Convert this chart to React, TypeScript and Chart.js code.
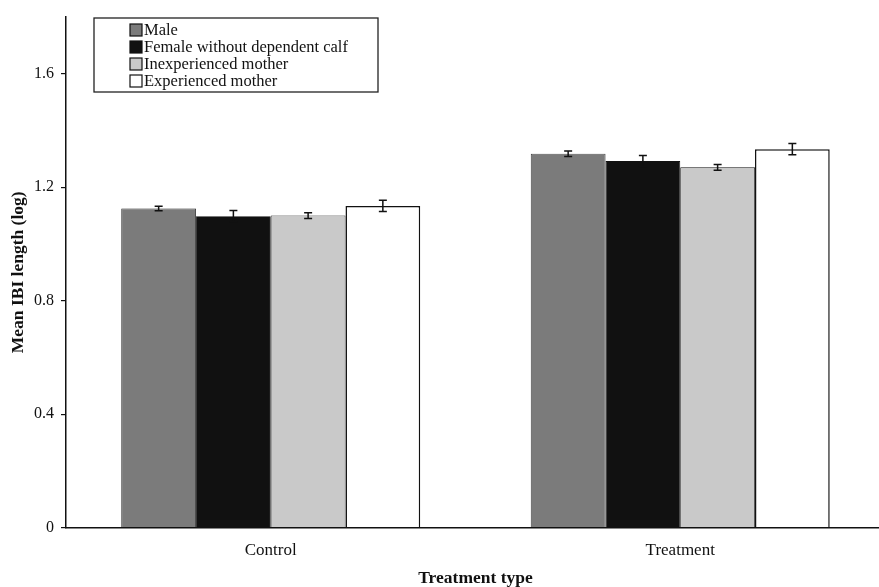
import React, { useEffect, useRef } from "react";
import { Chart, registerables } from "chart.js";

Chart.register(...registerables);

const categories = ["Control", "Treatment"];
const seriesNames = ["Male", "Female without dependent calf", "Inexperienced mother", "Experienced mother"];
const maleValues = [1.125, 1.318];
const femaleValues = [1.098, 1.292];
const inexpValues = [1.1, 1.27];
const expValues = [1.134, 1.334];
const maleErr = [0.008, 0.01];
const femaleErr = [0.02, 0.02];
const inexpErr = [0.01, 0.01];
const expErr = [0.02, 0.02];
const yTicks = [0, 0.4, 0.8, 1.2, 1.6];

const fillColors = ["#7b7b7b", "#111111", "#c9c9c9", "#ffffff"];
const FONT = "'Liberation Serif', 'DejaVu Serif', serif";

const errorBarPlugin = {
  id: "errorBars",
  afterDatasetsDraw(chart: any) {
    const ctx = chart.ctx;
    const yScale = chart.scales.y;
    chart.data.datasets.forEach((ds: any, i: number) => {
      const meta = chart.getDatasetMeta(i);
      meta.data.forEach((bar: any, j: number) => {
        const v = ds.data[j];
        const e = ds.errors[j];
        const yTop = yScale.getPixelForValue(v + e);
        const yBot = yScale.getPixelForValue(v - e);
        const x = bar.x;
        ctx.save();
        ctx.strokeStyle = "#111";
        ctx.lineWidth = 1.5;
        ctx.beginPath();
        ctx.moveTo(x, yTop);
        ctx.lineTo(x, yBot);
        ctx.moveTo(x - 4, yTop);
        ctx.lineTo(x + 4, yTop);
        ctx.moveTo(x - 4, yBot);
        ctx.lineTo(x + 4, yBot);
        ctx.stroke();
        ctx.restore();
      });
    });
  },
};

const legendPlugin = {
  id: "boxLegend",
  afterDraw(chart: any) {
    const ctx = chart.ctx;
    const area = chart.chartArea;
    const bx = area.left + 28;
    const by = area.top + 1;
    const bw = 284;
    const bh = 74;
    ctx.save();
    ctx.fillStyle = "#fff";
    ctx.fillRect(bx, by, bw, bh);
    ctx.strokeStyle = "#222";
    ctx.lineWidth = 1.3;
    ctx.strokeRect(bx, by, bw, bh);
    ctx.font = `16.5px ${FONT}`;
    ctx.textBaseline = "middle";
    seriesNames.forEach((name, i) => {
      const cy = by + 12 + i * 17;
      const sx = bx + 36;
      ctx.fillStyle = fillColors[i];
      ctx.fillRect(sx, cy - 6, 12, 12);
      ctx.strokeStyle = "#111";
      ctx.lineWidth = 1.2;
      ctx.strokeRect(sx, cy - 6, 12, 12);
      ctx.fillStyle = "#111";
      ctx.fillText(name, sx + 14, cy + 1);
    });
    ctx.restore();
  },
};

export default function App() {
  const ref = useRef<HTMLCanvasElement | null>(null);
  useEffect(() => {
    document.body.style.margin = "0";
    const values = [maleValues, femaleValues, inexpValues, expValues];
    const errs = [maleErr, femaleErr, inexpErr, expErr];
    const chart = new Chart(ref.current!, {
      type: "bar",
      data: {
        labels: categories,
        datasets: seriesNames.map((n, i) => ({
          label: n,
          data: values[i],
          errors: errs[i],
          backgroundColor: fillColors[i],
          borderColor: "#111",
          borderWidth: i === 3 ? 1.5 : 0.8,
          categoryPercentage: 0.73,
          barPercentage: 1.0,
        })) as any,
      },
      options: {
        animation: false,
        responsive: false,
        layout: { padding: { top: 17, right: 4, left: 8, bottom: -2 } },
        plugins: { legend: { display: false }, tooltip: { enabled: false } },
        scales: {
          x: {
            grid: { display: false },
            border: { display: true, color: "#111", width: 1.5 },
            ticks: { color: "#111", font: { family: FONT, size: 17 }, padding: 5 },
            title: {
              display: true,
              text: "Treatment type",
              color: "#111",
              font: { family: FONT, size: 17.5, weight: "bold" },
              padding: { top: 2, bottom: 0 },
            },
          },
          y: {
            min: 0,
            max: 1.8,
            afterBuildTicks: (scale: any) => {
              scale.ticks = yTicks.map((v) => ({ value: v }));
            },
            grid: { drawOnChartArea: false, drawTicks: true, tickLength: 5, color: "#111", lineWidth: 1.2 },
            border: { display: true, color: "#111", width: 1.5 },
            ticks: {
              color: "#111",
              font: { family: FONT, size: 16 },
              padding: 7,
              callback: (v: any) => String(Number(v)),
            },
            title: {
              display: true,
              text: "Mean IBI length (log)",
              color: "#111",
              font: { family: FONT, size: 17.5, weight: "bold" },
              padding: { top: 0, bottom: -2 },
            },
          },
        },
      } as any,
      plugins: [errorBarPlugin, legendPlugin],
    });
    return () => chart.destroy();
  }, []);
  return (
    <div style={{ width: 879, height: 587, background: "#fff", overflow: "hidden" }}>
      <canvas ref={ref} width={889} height={587} />
    </div>
  );
}
